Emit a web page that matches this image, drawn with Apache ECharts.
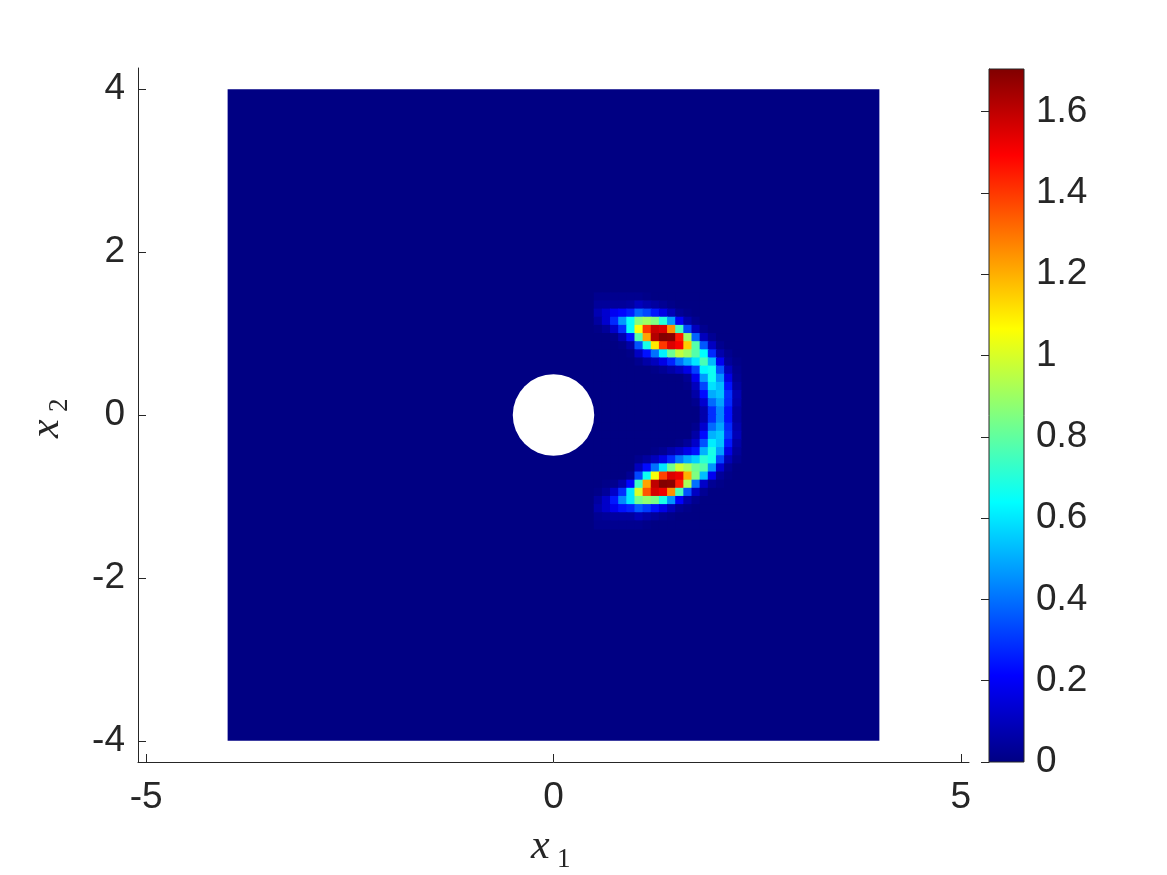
<!DOCTYPE html>
<html><head><meta charset="utf-8">
<script src="https://cdn.jsdelivr.net/npm/echarts@6/dist/echarts.min.js"></script>
<style>html,body{margin:0;padding:0;background:#fff}#c{width:1167px;height:875px}</style>
</head><body><div id="c"></div>
<script>
// ---- data ----
const xTicks = [-5, 0, 5];
const yTicks = [-4, -2, 0, 2, 4];
const cbTicks = [0, 0.2, 0.4, 0.6, 0.8, 1, 1.2, 1.4, 1.6];
const cbRange = [0, 1.705];
const domainBox = [-4, -4, 4, 4];
const hole = [0, 0, 0.5];
const cellSize = 0.1;
const xCenters = [0.55, 0.65, 0.75, 0.85, 0.95, 1.05, 1.15, 1.25, 1.35, 1.45, 1.55, 1.65, 1.75, 1.85, 1.95, 2.05, 2.15, 2.25];
const yCenters = [1.45, 1.35, 1.25, 1.15, 1.05, 0.95, 0.85, 0.75, 0.65, 0.55, 0.45, 0.35, 0.25, 0.15, 0.05,
                  -0.05, -0.15, -0.25, -0.35, -0.45, -0.55, -0.65, -0.75, -0.85, -0.95, -1.05, -1.15, -1.25, -1.35];
const values = [
  [.02,.02,.02,.02,.02,.02,.01,0,0,0,0,0,0,0,0,0,0,0],
  [.04,.04,.04,.04,.05,.10,.07,.05,.03,.01,0,0,0,0,0,0,0,0],
  [.08,.13,.19,.22,.26,.38,.33,.25,.17,.09,.03,.01,0,0,0,0,0,0],
  [.05,.13,.28,.47,.65,.86,.90,.85,.70,.47,.20,.07,.02,0,0,0,0,0],
  [.01,.04,.12,.29,.65,1.05,1.40,1.58,1.55,1.25,.75,.33,.10,.02,0,0,0,0],
  [0,0,.01,.08,.24,.78,1.22,1.62,1.70,1.69,1.45,.90,.38,.10,.03,0,0,0],
  [0,0,0,.01,.06,.35,.68,1.10,1.40,1.55,1.50,1.15,.78,.36,.11,.02,0,0],
  [0,0,0,0,.01,.11,.24,.40,.62,.82,.96,.90,.78,.64,.28,.07,.02,0],
  [0,0,0,0,0,.02,.06,.10,.17,.27,.40,.50,.60,.76,.52,.19,.04,.01],
  [0,0,0,0,0,0,0,.01,.03,.06,.10,.17,.32,.63,.66,.35,.10,.02],
  [0,0,0,0,0,0,0,0,0,0,0,.03,.18,.47,.66,.46,.17,.03],
  [0,0,0,0,0,0,0,0,0,0,0,.01,.10,.33,.59,.53,.24,.05],
  [0,0,0,0,0,0,0,0,0,0,0,0,.06,.23,.50,.54,.29,.08],
  [0,0,0,0,0,0,0,0,0,0,0,0,.02,.13,.39,.49,.28,.07],
  [0,0,0,0,0,0,0,0,0,0,0,0,0,.07,.29,.44,.24,.05],
  [0,0,0,0,0,0,0,0,0,0,0,0,0,.07,.29,.44,.24,.05],
  [0,0,0,0,0,0,0,0,0,0,0,0,.02,.13,.39,.49,.28,.07],
  [0,0,0,0,0,0,0,0,0,0,0,0,.06,.23,.51,.55,.30,.09],
  [0,0,0,0,0,0,0,0,0,0,.01,.04,.12,.35,.61,.54,.25,.06],
  [0,0,0,0,0,0,0,.01,.03,.07,.11,.17,.24,.51,.68,.48,.17,.04],
  [0,0,0,0,0,.02,.05,.10,.17,.28,.41,.50,.56,.71,.67,.33,.09,.02],
  [0,0,0,0,0,.10,.23,.40,.60,.83,.98,.92,.82,.78,.46,.14,.03,0],
  [0,0,0,0,.03,.33,.66,1.05,1.38,1.55,1.52,1.20,.85,.53,.19,.04,.01,0],
  [0,.01,.02,.07,.22,.74,1.22,1.60,1.70,1.69,1.45,.92,.40,.12,.03,.01,0,0],
  [.01,.04,.12,.29,.60,1.00,1.35,1.56,1.52,1.25,.76,.35,.11,.03,0,0,0,0],
  [.05,.12,.25,.44,.60,.83,.88,.84,.68,.46,.21,.07,.02,0,0,0,0,0],
  [.07,.12,.18,.24,.27,.36,.31,.24,.17,.09,.03,.01,0,0,0,0,0,0],
  [.03,.04,.05,.05,.05,.09,.06,.04,.02,.01,0,0,0,0,0,0,0,0],
  [.02,.02,.02,.02,.02,.02,.01,0,0,0,0,0,0,0,0,0,0,0]
];

// ---- styling ----
const jet = ['#000083','#0000ff','#0080ff','#00ffff','#80ff80','#ffff00','#ff8000','#ff0000','#800000'];
const ink = '#262626';
const tickFont = 37;
const labelFamily = '"Liberation Sans", Arial, Helvetica, sans-serif';
const mathFamily = '"Liberation Serif", "Times New Roman", serif';

const cells = [];
yCenters.forEach((y, j) => xCenters.forEach((x, i) => cells.push([x, y, values[j][i]])));

const chart = echarts.init(document.getElementById('c'), null, {renderer: 'canvas'});

function mathLabel(name, sub) {
  return [
    {type: 'text', x: 0, y: 0, style: {text: name, font: 'italic 42px ' + mathFamily, fill: ink, align: 'left', verticalAlign: 'middle'}},
    {type: 'text', x: 26, y: 13, style: {text: sub, font: '27px ' + mathFamily, fill: ink, align: 'left', verticalAlign: 'middle'}}
  ];
}

chart.setOption({
  animation: false,
  backgroundColor: '#ffffff',
  textStyle: {fontFamily: labelFamily},
  grid: [
    {left: 138, top: 68, width: 831, height: 694, containLabel: false, outerBoundsMode: 'none'},
    {left: 989, top: 69, width: 35, height: 693, containLabel: false, outerBoundsMode: 'none'}
  ],
  xAxis: [
    {type: 'value', gridIndex: 0, min: -5.1, max: 5.1,
     axisLine: {show: true, onZero: false, lineStyle: {color: ink, width: 1}},
     axisTick: {show: true, inside: true, length: 8, customValues: xTicks, lineStyle: {color: ink}},
     axisLabel: {show: true, customValues: xTicks, margin: 17, fontSize: tickFont, color: ink, fontFamily: labelFamily},
     splitLine: {show: false}},
    {type: 'value', gridIndex: 1, min: 0, max: 1, show: false}
  ],
  yAxis: [
    {type: 'value', gridIndex: 0, min: -4.26, max: 4.26,
     axisLine: {show: true, onZero: false, lineStyle: {color: ink, width: 1}},
     axisTick: {show: true, inside: true, length: 8, customValues: yTicks, lineStyle: {color: ink}},
     axisLabel: {show: true, customValues: yTicks, margin: 13, fontSize: tickFont, color: ink, fontFamily: labelFamily},
     splitLine: {show: false}},
    {type: 'value', gridIndex: 1, min: cbRange[0], max: cbRange[1], position: 'right',
     axisLine: {show: true, lineStyle: {color: ink, width: 1}},
     axisTick: {show: true, inside: true, length: 8, customValues: cbTicks, lineStyle: {color: ink}},
     axisLabel: {show: true, customValues: cbTicks, margin: 12, fontSize: tickFont, color: ink, fontFamily: labelFamily},
     splitLine: {show: false}}
  ],
  visualMap: {
    type: 'continuous', show: false, min: cbRange[0], max: cbRange[1],
    seriesIndex: 1, dimension: 2, inRange: {color: jet}
  },
  series: [
    {type: 'custom', xAxisIndex: 0, yAxisIndex: 0, z: 1, silent: true,
     data: [domainBox],
     renderItem: function (params, api) {
       const a = api.coord([api.value(0), api.value(3)]);
       const b = api.coord([api.value(2), api.value(1)]);
       return {type: 'rect', shape: {x: a[0], y: a[1], width: b[0] - a[0], height: b[1] - a[1]}, style: {fill: jet[0]}};
     }},
    {type: 'custom', xAxisIndex: 0, yAxisIndex: 0, z: 2, silent: true,
     data: cells,
     encode: {x: 0, y: 1},
     renderItem: function (params, api) {
       const x = api.value(0), y = api.value(1), h = cellSize / 2;
       const a = api.coord([x - h, y + h]);
       const b = api.coord([x + h, y - h]);
       return {type: 'rect', shape: {x: a[0] - 0.5, y: a[1] - 0.5, width: b[0] - a[0] + 1, height: b[1] - a[1] + 1},
               style: {fill: api.visual('color')}};
     }},
    {type: 'custom', xAxisIndex: 0, yAxisIndex: 0, z: 3, silent: true,
     data: [hole],
     renderItem: function (params, api) {
       const c = api.coord([api.value(0), api.value(1)]);
       const r = api.size([api.value(2), 0])[0];
       return {type: 'circle', shape: {cx: c[0], cy: c[1], r: r}, style: {fill: '#ffffff'}};
     }},
    {type: 'custom', xAxisIndex: 1, yAxisIndex: 1, z: 2, silent: true,
     data: [[0, cbRange[0], 1, cbRange[1]]],
     renderItem: function (params, api) {
       const a = api.coord([api.value(0), api.value(3)]);
       const b = api.coord([api.value(2), api.value(1)]);
       const stops = jet.map((c, i) => ({offset: i / (jet.length - 1), color: c}));
       return {type: 'rect', shape: {x: a[0], y: a[1], width: b[0] - a[0], height: b[1] - a[1]},
               style: {fill: new echarts.graphic.LinearGradient(0, 1, 0, 0, stops), stroke: ink, lineWidth: 1}};
     }}
  ],
  graphic: [
    {type: 'group', x: 531, y: 847, children: mathLabel('x', '1')},
    {type: 'group', x: 47, y: 438, rotation: Math.PI / 2, children: mathLabel('x', '2')}
  ]
});
</script>
</body></html>
